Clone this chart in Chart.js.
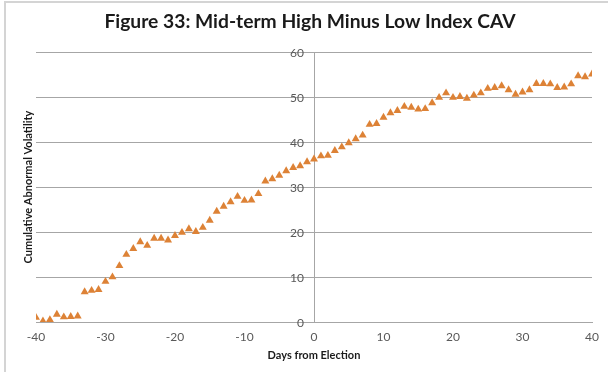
<!DOCTYPE html>
<html>
<head>
<meta charset="utf-8">
<script src="https://cdn.jsdelivr.net/npm/chart.js@4"></script>
<style>
  html, body { margin: 0; padding: 0; background: #fff; }
  #wrap { position: relative; width: 608px; height: 372px; }
  #frame { position: absolute; left: 4px; top: 1px; right: 0; bottom: 0; border-left: 2px solid #d4d4d4; border-top: 2px solid #d4d4d4; }
</style>
</head>
<body>
<div id="wrap">
  <div id="frame"></div>
  <canvas id="chart" width="608" height="372"></canvas>
</div>
<script>
// dias em relacao a eleicao e valores
const days = [];
for (let d = -40; d <= 40; d++) days.push(d);

const cav = [
  1.0, 0.2, 0.5, 1.7, 1.1, 1.2, 1.3, 6.7, 7.0, 7.2,
  9.0, 10.0, 12.5, 15.0, 16.3, 17.8, 17.0, 18.6, 18.6, 18.2,
  19.2, 19.9, 20.7, 20.1, 21.0, 22.6, 24.6, 25.7, 26.7, 27.9,
  27.0, 27.1, 28.5, 31.3, 31.8, 32.6, 33.6, 34.3, 34.7, 35.6,
  36.2, 36.9, 37.0, 38.1, 38.9, 39.8, 40.7, 41.5, 43.9, 44.1,
  45.5, 46.5, 47.0, 47.9, 47.7, 47.3, 47.4, 48.7, 49.9, 50.9,
  49.9, 50.1, 49.7, 50.4, 50.9, 51.9, 52.1, 52.5, 51.6, 50.6,
  51.1, 51.6, 53.0, 53.0, 52.9, 52.1, 52.2, 52.9, 54.7, 54.5,
  55.1
];

const xTicks = [-40, -30, -20, -10, 0, 10, 20, 30, 40];
const yTicks = [0, 10, 20, 30, 40, 50, 60];

const pontos = days.map((d, i) => ({ x: d, y: cav[i] }));

const corTexto = "#595959";
const corGrade = "#a6a6a6";

// rotulos do eixo y ao lado do eixo central (x = 0)
const rotulosEixoY = {
  id: "rotulosEixoY",
  beforeDatasetsDraw(chart) {
    const { ctx, scales: { x, y } } = chart;
    const px = x.getPixelForValue(0) - 10;
    ctx.save();
    ctx.fillStyle = corTexto;
    ctx.font = "12px Lato";
    ctx.textAlign = "right";
    ctx.textBaseline = "middle";
    yTicks.forEach(v => ctx.fillText(String(v), px, y.getPixelForValue(v) + 1));
    ctx.restore();
  }
};

new Chart(document.getElementById("chart").getContext("2d"), {
  type: "scatter",
  data: {
    datasets: [{
      data: pontos,
      pointStyle: "triangle",
      pointRadius: 4.6,
      pointHoverRadius: 4.6,
      backgroundColor: "#dd8236",
      borderColor: "#dd8236",
      borderWidth: 0,
      xAxisID: "x",
      yAxisID: "y"
    }]
  },
  plugins: [rotulosEixoY],
  options: {
    responsive: false,
    animation: false,
    events: [],
    layout: { padding: { left: 12, right: 0, top: 0, bottom: 0 } },
    plugins: {
      legend: { display: false },
      tooltip: { enabled: false },
      title: {
        display: true,
        text: "Figure 33: Mid-term High Minus Low Index CAV",
        color: "#1a1a1a",
        font: { family: "Lato", size: 19.25, weight: "bold" },
        padding: { top: 10, bottom: 19 }
      }
    },
    scales: {
      x: {
        type: "linear",
        position: "bottom",
        min: -40, max: 40,
        afterBuildTicks: (s) => { s.ticks = xTicks.map(v => ({ value: v })); },
        afterFit: (s) => { s.height = 50; },
        grid: { display: false, drawTicks: false },
        border: { display: true, color: corGrade, width: 1 },
        ticks: { color: corTexto, font: { family: "Lato", size: 12 }, padding: 8, maxRotation: 0 },
        title: {
          display: true,
          text: "Days from Election",
          color: "#1a1a1a",
          font: { family: "Lato", size: 11, weight: "bold" },
          padding: { top: 0, bottom: 10 }
        }
      },
      y: {
        type: "linear",
        position: { x: 0 },
        min: 0, max: 60,
        afterBuildTicks: (s) => { s.ticks = yTicks.map(v => ({ value: v })); },
        grid: { color: corGrade, lineWidth: 1, drawTicks: false },
        border: { display: true, color: corGrade, width: 1 },
        ticks: { display: false }
      },
      yTitulo: {
        type: "linear",
        position: "left",
        min: 0, max: 60,
        afterFit: (s) => { s.width = 24; },
        grid: { display: false, drawTicks: false },
        border: { display: false },
        ticks: { display: false },
        title: {
          display: true,
          text: "Cumulative Abnormal Volatility",
          color: "#1a1a1a",
          font: { family: "Lato", size: 11, weight: "bold" },
          padding: { top: 10, bottom: 0 }
        }
      },
      margemDireita: {
        type: "linear",
        position: "right",
        min: 0, max: 60,
        afterFit: (s) => { s.width = 16; },
        grid: { display: false, drawTicks: false },
        border: { display: false },
        ticks: { display: false }
      }
    }
  }
});
</script>
</body>
</html>
